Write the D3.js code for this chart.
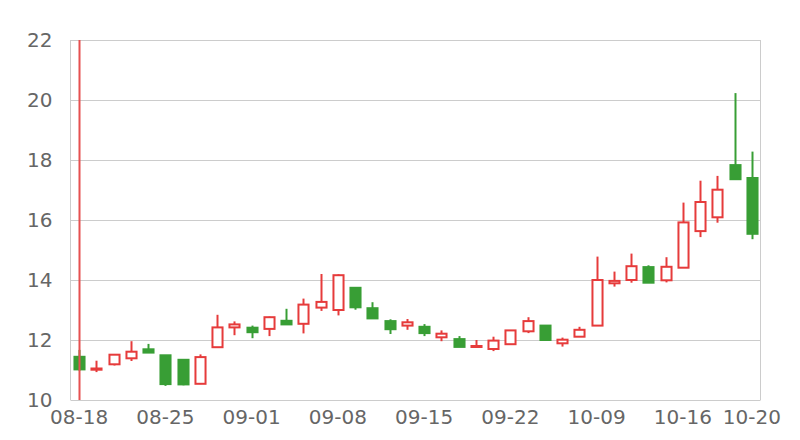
<!DOCTYPE html>
<html>
<head>
<meta charset="utf-8">
<script src="https://cdn.jsdelivr.net/npm/d3@7/dist/d3.min.js"></script>
<style>
  html, body { margin: 0; padding: 0; background: #fff; }
  svg { display: block; font-family: "DejaVu Sans", sans-serif; }
</style>
</head>
<body>
<svg id="chart" width="800" height="440"></svg>
<script>
const dates = ["08-18","08-19","08-20","08-21","08-22","08-25","08-26","08-27","08-28","08-29",
  "09-01","09-02","09-03","09-04","09-05","09-08","09-09","09-10","09-11","09-12",
  "09-15","09-16","09-17","09-18","09-19","09-22","09-23","09-24","09-25","09-26",
  "10-09","10-10","10-13","10-14","10-15","10-16","10-17","10-18","10-19","10-20"];
const open  = [11.44,11.01,11.19,11.39,11.69,11.49,11.34,10.54,11.76,12.42,
  12.41,12.37,12.64,12.54,13.08,13.00,13.74,13.06,12.63,12.48,
  12.44,12.09,12.03,11.78,11.70,11.86,12.29,12.48,11.89,12.11,
  12.48,13.89,14.00,14.43,13.99,14.41,15.63,16.09,17.83,17.40];
const close = [11.02,11.05,11.51,11.61,11.58,10.53,10.52,11.43,12.42,12.52,
  12.26,12.76,12.52,13.18,13.27,14.16,13.09,12.72,12.36,12.59,
  12.23,12.21,11.77,11.80,11.98,12.32,12.63,12.00,12.01,12.34,
  14.00,13.97,14.46,13.91,14.44,15.92,16.60,17.01,17.36,15.54];
const high  = [11.67,11.31,11.52,11.96,11.87,11.50,11.35,11.52,12.84,12.62,
  12.48,12.78,13.04,13.38,14.20,14.19,13.75,13.26,12.69,12.70,
  12.53,12.32,12.13,12.00,12.11,12.33,12.76,12.48,12.08,12.44,
  14.78,14.28,14.88,14.49,14.76,16.58,17.31,17.47,20.23,18.28];
const low   = [10.98,10.93,11.15,11.30,11.57,10.47,10.49,10.53,11.75,12.16,
  12.06,12.13,12.52,12.22,12.97,12.82,13.01,12.70,12.20,12.34,
  12.13,11.96,11.77,11.78,11.63,11.85,12.23,12.00,11.78,12.10,
  12.47,13.78,13.91,13.90,13.92,14.40,15.43,15.91,17.36,15.36];
const yTicks = [10, 12, 14, 16, 18, 20, 22];
const markerDate = "08-18";

const UP = "#e63b3b", DOWN = "#389e35", GRID = "#cccccc", TEXT = "#666666";
const margin = { left: 70.5, right: 39.5, top: 40, bottom: 40 };
const W = 800, H = 440;
const svg = d3.select("#chart");

const x = d3.scaleBand().domain(dates).range([margin.left, W - margin.right]).paddingInner(0.3).paddingOuter(0.15);
const xc = d => x(d) + x.bandwidth() / 2;
const y = d3.scaleLinear().domain([10, 22]).range([H - margin.bottom, margin.top]);

// grid
svg.append("g").selectAll("line").data(yTicks).join("line")
  .attr("x1", margin.left).attr("x2", W - margin.right)
  .attr("y1", d => Math.round(y(d)) + 0.5).attr("y2", d => Math.round(y(d)) + 0.5)
  .attr("stroke", GRID).attr("stroke-width", 1);
// vertical borders
[margin.left, W - margin.right].forEach(px => {
  svg.append("line").attr("x1", px).attr("x2", px).attr("y1", y(22)).attr("y2", y(10))
    .attr("stroke", GRID).attr("stroke-width", 1);
});

// y axis
const yAxis = d3.axisLeft(y).tickValues(yTicks).tickSize(0).tickPadding(18);
const gy = svg.append("g").attr("transform", `translate(${margin.left},0)`).call(yAxis);
gy.select(".domain").remove();
gy.selectAll("text").attr("fill", TEXT).style("font-size", "20px").style("font-family", "DejaVu Sans");

// x axis
const shown = dates.filter((d, i) => i % 5 === 0 || i === dates.length - 1);
const xAxis = d3.axisBottom(x).tickValues(shown).tickSize(0).tickPadding(10);
const gx = svg.append("g").attr("transform", `translate(0,${H - margin.bottom})`).call(xAxis);
gx.select(".domain").remove();
gx.selectAll("text").attr("fill", TEXT).style("font-size", "20px").style("font-family", "DejaVu Sans");

const data = dates.map((d, i) => ({ d, o: open[i], c: close[i], h: high[i], l: low[i] }));

// candles
const g = svg.append("g");
const bw = x.bandwidth();
data.forEach(k => {
  const up = k.c >= k.o;
  const col = up ? UP : DOWN;
  const cx = Math.round(xc(k.d)) + 0.5;
  const top = y(Math.max(k.o, k.c)), bot = y(Math.min(k.o, k.c));
  g.append("line").attr("x1", cx).attr("x2", cx).attr("y1", y(k.h)).attr("y2", top)
    .attr("stroke", col).attr("stroke-width", 2);
  g.append("line").attr("x1", cx).attr("x2", cx).attr("y1", bot).attr("y2", y(k.l))
    .attr("stroke", col).attr("stroke-width", 2);
  g.append("rect")
    .attr("x", cx - bw / 2 + 1).attr("width", bw - 2)
    .attr("y", top).attr("height", Math.max(bot - top, 1))
    .attr("fill", up ? "#ffffff" : DOWN)
    .attr("stroke", col).attr("stroke-width", 2);
});

// red vertical marker
svg.append("line")
  .attr("x1", Math.round(xc(markerDate)) + 0.5).attr("x2", Math.round(xc(markerDate)) + 0.5)
  .attr("y1", y(22)).attr("y2", y(10))
  .attr("stroke", "#e65050").attr("stroke-width", 2);
</script>
</body>
</html>
